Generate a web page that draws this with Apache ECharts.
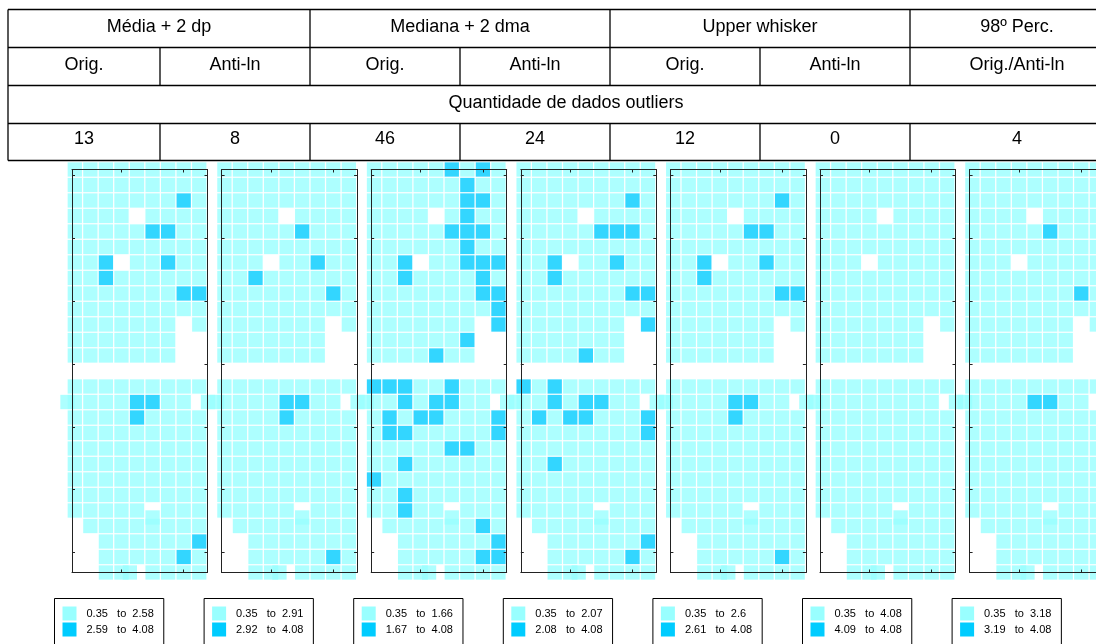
<!DOCTYPE html>
<html>
<head>
<meta charset="utf-8">
<script src="https://cdn.jsdelivr.net/npm/echarts@6/dist/echarts.min.js"></script>
<style>
  html, body { margin: 0; padding: 0; background: #ffffff; }
  #chart { width: 1096px; height: 644px; }
</style>
</head>
<body>
<div id="chart"></div>
<script>
// ---- Outlier criteria (table header) ----
const methodNames = ['Média + 2 dp', 'Mediana + 2 dma', 'Upper whisker', '98º Perc.'];
const panelTransforms = ['Orig.', 'Anti-ln', 'Orig.', 'Anti-ln', 'Orig.', 'Anti-ln', 'Orig./Anti-ln'];
const countTitle = 'Quantidade de dados outliers';
const outlierCounts = [13, 8, 46, 24, 12, 0, 4];

// ---- Class limits of each map ----
const rangeMin = 0.35;
const rangeMax = 4.08;
const normalUpper = [2.58, 2.91, 1.66, 2.07, 2.6, 4.08, 3.18];
const outlierLower = [2.59, 2.92, 1.67, 2.08, 2.61, 4.09, 3.19];

// ---- Sampling grid: rows top to bottom, 9 columns, null = no sample ----
const sampleGrid = [
  [1.12, 0.98, 1.25, 1.07, 1.31, 1.84, 1.16, 1.72, 1.03],
  [1.21, 1.09, 0.94, 1.18, 1.27, 1.35, 1.93, 1.42, 1.11],
  [1.05, 1.14, 1.22, 0.91, 1.33, 1.48, 1.78, 2.74, 1.26],
  [0.97, 1.19, 1.08, 1.24, null, 1.37, 2.01, 1.45, 1.29],
  [1.13, 1.02, 1.17, 1.30, 1.39, 3.52, 2.83, 2.21, 1.36],
  [0.88, 1.06, 1.23, 1.15, 1.28, 1.44, 1.88, 1.52, 1.34],
  [1.01, 1.10, 2.66, null, 1.20, 1.41, 3.05, 1.75, 1.96],
  [0.93, 1.04, 2.97, 1.26, 1.19, 1.32, 1.47, 1.81, 1.40],
  [1.08, 0.96, 1.29, 1.14, 1.22, 1.38, 1.55, 3.41, 2.71],
  [0.99, 1.12, 1.03, 1.21, 1.16, 1.27, 1.43, 1.58, 1.69],
  [0.85, 1.07, 1.18, 1.09, 1.25, 1.30, 1.36, null, 2.35],
  [0.92, 0.35, 1.11, 1.20, 1.13, 1.24, 1.87, null, null],
  [0.87, 0.95, 1.06, 1.17, 2.12, 1.28, 1.33, null, null],
  [null, null, null, null, null, null, null, null, null],
  [2.44, 1.74, 2.18, 1.35, 1.23, 1.92, 1.31, 1.19, 1.08],
  [1.26, 1.17, 2.27, 1.34, 3.27, 4.08, 1.40, 1.22, null],
  [1.15, 2.09, 1.29, 2.31, 3.12, 1.45, 1.37, 1.28, 2.15],
  [1.20, 1.83, 1.71, 1.26, 1.32, 1.48, 1.39, 1.33, 2.52],
  [1.07, 1.14, 1.30, 1.21, 1.36, 1.98, 1.76, 1.41, 1.25],
  [0.98, 1.10, 2.24, 1.18, 1.27, 1.34, 1.29, 1.37, 1.19],
  [1.89, 1.03, 1.16, 1.24, 1.19, 1.31, 1.22, 1.35, 1.27],
  [0.94, 1.08, 1.73, 1.13, 1.25, 1.20, 1.28, 1.43, 1.32],
  [0.90, 1.01, 1.80, 1.09, 1.17, null, 1.24, 1.38, 1.30],
  [null, 0.97, 1.12, 1.06, 1.21, 1.16, 1.29, 1.95, 1.44],
  [null, null, 1.04, 1.15, 1.19, 1.26, 1.33, 1.49, 2.60],
  [null, null, 1.10, 1.08, 1.22, 1.30, 1.36, 2.94, 2.04],
  [null, null, 1.02, 1.13, null, 1.18, 1.25, 1.40, 1.47]
];
// samples lying off the regular grid: [column, row, value]
const offGridSamples = [
  [-0.47, 15, 1.09],
  [8.56, 15, 1.21],
  [5.0, 22.45, 1.14],
  [3.54, 26, 1.11]
];

// ---- Field extent and tick positions (grid units) ----
const colExtent = [-0.18, 8.53];
const rowExtent = [0, 26];
const colTicks = [3, 7];
const rowTicks = [0.4, 4.45, 8.5, 12.55, 16.6, 20.65, 24.7];

const lightColor = '#99ffff';
const darkColor = '#00ccff';
const FONT = 'Liberation Sans, Arial, sans-serif';

// build [col, row, value] points
const points = offGridSamples.map(p => p.slice());
sampleGrid.forEach((row, r) => {
  row.forEach((v, c) => { if (v !== null) points.push([c, r, v]); });
});

const PANEL_STEP = 149.6;
const FRAME_LEFT = 72, FRAME_TOP = 169.5, FRAME_W = 135.5, FRAME_H = 403;

const grids = [], xAxes = [], yAxes = [], series = [], visualMaps = [];
const frameColor = '#222';

for (let k = 0; k < panelTransforms.length; k++) {
  grids.push({
    left: FRAME_LEFT + PANEL_STEP * k, top: FRAME_TOP,
    width: FRAME_W, height: FRAME_H,
    outerBoundsMode: 'none', containLabel: false
  });
  ['bottom', 'top'].forEach(pos => {
    xAxes.push({
      type: 'value', gridIndex: k, position: pos,
      min: colExtent[0], max: colExtent[1], z: 5,
      axisLine: { show: true, onZero: false, lineStyle: { color: frameColor, width: 1 } },
      axisTick: { show: true, inside: true, length: 3, customValues: colTicks, lineStyle: { color: frameColor } },
      axisLabel: { show: false }, splitLine: { show: false }
    });
  });
  ['left', 'right'].forEach(pos => {
    yAxes.push({
      type: 'value', gridIndex: k, position: pos, inverse: true,
      min: rowExtent[0], max: rowExtent[1], z: 5,
      axisLine: { show: true, onZero: false, lineStyle: { color: frameColor, width: 1 } },
      axisTick: { show: true, inside: true, length: 3, customValues: rowTicks, lineStyle: { color: frameColor } },
      axisLabel: { show: false }, splitLine: { show: false }
    });
  });
  series.push({
    type: 'scatter', xAxisIndex: 2 * k, yAxisIndex: 2 * k,
    symbol: 'rect', symbolSize: [14.3, 14.3],
    clip: false, silent: true, animation: false,
    data: points
  });
  visualMaps.push({
    type: 'piecewise', seriesIndex: k, dimension: 2,
    orient: 'vertical', inverse: true, align: 'left',
    left: 54 + PANEL_STEP * k, top: 598,
    itemSymbol: 'rect', itemWidth: 14, itemHeight: 14, itemGap: 2, textGap: 10,
    padding: [8, 10, 9, 8],
    borderColor: '#000', borderWidth: 1, backgroundColor: '#fff',
    selectedMode: false, hoverLink: false,
    textStyle: { fontSize: 11, color: '#000', fontFamily: FONT },
    pieces: [
      { min: rangeMin, max: normalUpper[k], color: lightColor, label: rangeMin + '   to  ' + normalUpper[k] },
      { min: outlierLower[k], max: rangeMax, color: darkColor, label: outlierLower[k] + '   to  ' + rangeMax }
    ],
    outOfRange: { color: lightColor }
  });
}

// ---- Header table ----
const rowLines = [9.5, 47.5, 85.5, 123.5, 160.5];
const tableLeft = 8, tableRight = 1124;
const colBounds = [8, 160, 310, 460, 610, 760, 910, 1124];
const groupSpans = [[0, 2], [2, 4], [4, 6], [6, 7]];
const textFont = { fontSize: 18, fontFamily: FONT, fill: '#000', align: 'center', verticalAlign: 'middle' };
const elements = [];
const hLine = (y) => elements.push({ type: 'line', z: 100, shape: { x1: tableLeft, y1: y, x2: tableRight, y2: y }, style: { stroke: '#000', lineWidth: 1.3 } });
const vLine = (x, y1, y2) => elements.push({ type: 'line', z: 100, shape: { x1: x, y1: y1, x2: x, y2: y2 }, style: { stroke: '#000', lineWidth: 1.3 } });
const label = (text, x, y) => elements.push({ type: 'text', z: 101, x: x, y: y, style: Object.assign({ text: String(text) }, textFont) });

rowLines.forEach(hLine);
vLine(tableLeft, rowLines[0], rowLines[4]);
// group header
groupSpans.forEach(([a, b], i) => {
  if (a > 0) vLine(colBounds[a], rowLines[0], rowLines[1]);
  label(methodNames[i], (colBounds[a] + colBounds[b]) / 2, 27);
});
// transformation row and count row
for (let k = 0; k < panelTransforms.length; k++) {
  if (k > 0) { vLine(colBounds[k], rowLines[1], rowLines[2]); vLine(colBounds[k], rowLines[3], rowLines[4]); }
  const cx = (colBounds[k] + colBounds[k + 1]) / 2;
  label(panelTransforms[k], cx, 65);
  label(outlierCounts[k], cx, 139);
}
label(countTitle, (tableLeft + tableRight) / 2, 103);

const chart = echarts.init(document.getElementById('chart'), null, { renderer: 'canvas' });
chart.setOption({
  animation: false,
  backgroundColor: '#ffffff',
  grid: grids,
  xAxis: xAxes,
  yAxis: yAxes,
  visualMap: visualMaps,
  series: series,
  graphic: { elements: elements }
});
</script>
</body>
</html>
